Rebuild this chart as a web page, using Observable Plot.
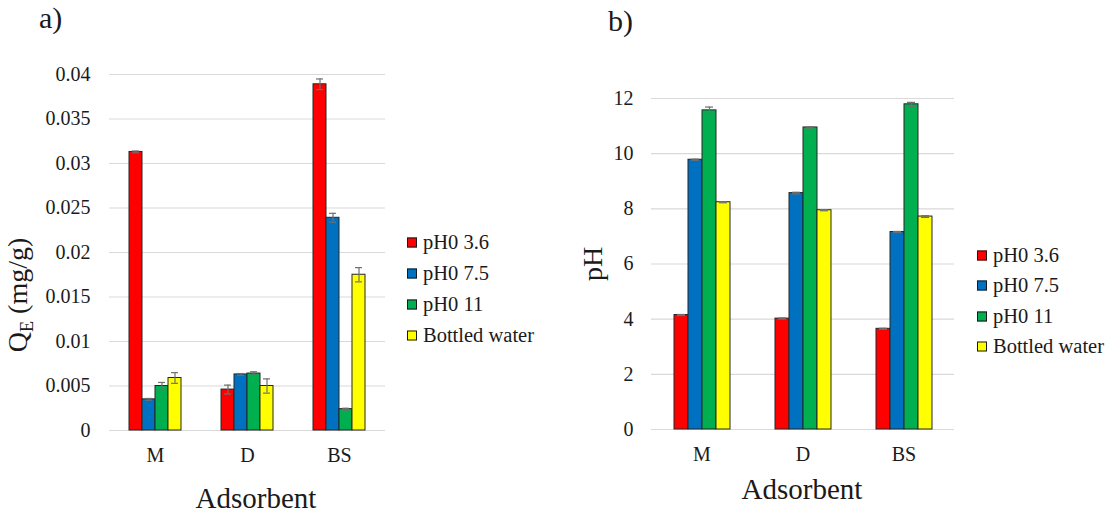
<!DOCTYPE html>
<html>
<head>
<meta charset="utf-8">
<script src="https://cdn.jsdelivr.net/npm/d3@7"></script>
<script src="https://cdn.jsdelivr.net/npm/@observablehq/plot@0.6"></script>
<style>
  html, body { margin: 0; padding: 0; background: #fff; }
  #root { position: relative; width: 1111px; height: 514px; overflow: hidden;
          font-family: "Liberation Serif", "Times New Roman", serif; color: #1a1a1a; }
  .abs { position: absolute; white-space: nowrap; line-height: 1; }
  .panel { position: absolute; top: 0; }
  .title { font-size: 30px; }
  .axlabel { font-size: 28px; transform: translate(-50%, -50%); }
  .xlab { font-size: 29px; }
  .ylab { transform: translate(-50%, -50%) rotate(-90deg); }
  .legend { position: absolute; font-size: 20.5px; }
  .legend .row { position: absolute; left: 0; display: flex; align-items: center; transform: translateY(-50%); white-space: nowrap; }
  .legend .sw { width: 8px; height: 8px; border: 1px solid #1a1a1a; margin-right: 6px; }
  sub { font-size: 65%; vertical-align: -0.3em; }
</style>
</head>
<body>
<div id="root"></div>
<script>
// ---------------- data ----------------
const adsorbents = ["M", "D", "BS"];
const seriesNames = ["pH0 3.6", "pH0 7.5", "pH0 11", "Bottled water"];
const seriesColors = ["#ff0000", "#0070c0", "#00b050", "#ffff00"];

// a) Q_E (mg/g), one array per series, in adsorbent order M, D, BS
const qePH36 = [0.0313, 0.0046, 0.0389];
const qePH75 = [0.0035, 0.0063, 0.0239];
const qePH11 = [0.0050, 0.0064, 0.0024];
const qeBottled = [0.0059, 0.0050, 0.0175];
const qeErrPH36 = [0.0001, 0.0005, 0.0006];
const qeErrPH75 = [0.0001, 0.0001, 0.0005];
const qeErrPH11 = [0.0004, 0.0002, 0.0001];
const qeErrBottled = [0.0006, 0.0008, 0.0008];
const qeTicks = [0, 0.005, 0.01, 0.015, 0.02, 0.025, 0.03, 0.035, 0.04];

// b) final pH, one array per series, in adsorbent order M, D, BS
const phPH36 = [4.15, 4.02, 3.65];
const phPH75 = [9.78, 8.57, 7.16];
const phPH11 = [11.57, 10.95, 11.79];
const phBottled = [8.24, 7.95, 7.72];
const phErrPH36 = [0.02, 0.02, 0.02];
const phErrPH75 = [0.02, 0.03, 0.02];
const phErrPH11 = [0.12, 0.02, 0.07];
const phErrBottled = [0.02, 0.02, 0.03];
const phTicks = [0, 2, 4, 6, 8, 10, 12];

const panelLabels = ["a)", "b)"];
const xTitle = "Adsorbent";

// ---------------- helpers ----------------
function buildRows(valueArrays, errArrays) {
  const rows = [];
  adsorbents.forEach((a, i) => {
    seriesNames.forEach((s, j) => {
      rows.push({adsorbent: a, series: s, value: valueArrays[j][i], err: errArrays[j][i]});
    });
  });
  return rows;
}

function barChart({rows, ticks, width, height, margin, tickPadding, fxTickPadding, paddingOuter}) {
  return Plot.plot({
    width, height,
    marginLeft: margin[3], marginRight: margin[1], marginTop: margin[0], marginBottom: margin[2],
    style: {fontFamily: '"Liberation Serif", "Times New Roman", serif', fontSize: "20px", color: "#1a1a1a", background: "transparent", overflow: "visible"},
    fx: {domain: adsorbents, paddingInner: 0, paddingOuter: 0, axis: "bottom", tickSize: 0, tickPadding: fxTickPadding, label: null},
    x: {domain: seriesNames, paddingInner: 0, paddingOuter, axis: null},
    y: {domain: [ticks[0], ticks[ticks.length - 1]], ticks, tickSize: 0, tickPadding, label: null, tickFormat: d => String(d)},
    color: {domain: seriesNames, range: seriesColors},
    marks: [
      Plot.gridY(ticks, {stroke: "#d9d9d9", strokeOpacity: 1, strokeWidth: 1.2}),
      Plot.barY(rows, {fx: "adsorbent", x: "series", y: "value", fill: "series", stroke: "#262626", strokeWidth: 1, insetLeft: 0, insetRight: 0}),
      Plot.ruleX(rows, {fx: "adsorbent", x: "series", y1: d => d.value - d.err, y2: d => d.value + d.err, stroke: "#6f6f6f", strokeWidth: 1.2}),
      Plot.tickY(rows, {fx: "adsorbent", x: "series", y: d => d.value + d.err, stroke: "#6f6f6f", strokeWidth: 1.2, insetLeft: 3, insetRight: 3}),
      Plot.tickY(rows, {fx: "adsorbent", x: "series", y: d => d.value - d.err, stroke: "#6f6f6f", strokeWidth: 1.2, insetLeft: 3, insetRight: 3})
    ]
  });
}

function addDiv(parent, cls, html, left, top) {
  const el = document.createElement("div");
  el.className = "abs " + cls;
  el.innerHTML = html;
  el.style.left = left + "px";
  el.style.top = top + "px";
  parent.appendChild(el);
  return el;
}

function addLegend(parent, left, rowYs) {
  const lg = document.createElement("div");
  lg.className = "legend";
  lg.style.left = left + "px";
  lg.style.top = "0px";
  seriesNames.forEach((s, i) => {
    const row = document.createElement("div");
    row.className = "row";
    row.style.top = rowYs[i] + "px";
    const sw = document.createElement("span");
    sw.className = "sw";
    sw.style.background = seriesColors[i];
    const tx = document.createElement("span");
    tx.textContent = s;
    row.appendChild(sw);
    row.appendChild(tx);
    lg.appendChild(row);
  });
  parent.appendChild(lg);
}

// ---------------- render ----------------
const root = document.getElementById("root");

// Panel a
const chartA = barChart({
  rows: buildRows([qePH36, qePH75, qePH11, qeBottled], [qeErrPH36, qeErrPH75, qeErrPH11, qeErrBottled]),
  ticks: qeTicks, width: 400, height: 514,
  margin: [74, 15, 84, 109], tickPadding: 19, fxTickPadding: 17, paddingOuter: 1.46
});
chartA.classList.add("panel");
chartA.style.left = "0px";
root.appendChild(chartA);

// Panel b
const chartB = barChart({
  rows: buildRows([phPH36, phPH75, phPH11, phBottled], [phErrPH36, phErrPH75, phErrPH11, phErrBottled]),
  ticks: phTicks, width: 420, height: 514,
  margin: [98, 26, 85, 90], tickPadding: 18, fxTickPadding: 17, paddingOuter: 1.52
});
chartB.classList.add("panel");
chartB.style.left = "560px";
root.appendChild(chartB);

// Titles and axis labels
addDiv(root, "title", panelLabels[0], 39, 3);
addDiv(root, "title", panelLabels[1], 608, 6);
addDiv(root, "axlabel ylab", "Q<sub>E</sub> (mg/g)", 20, 295);
addDiv(root, "axlabel ylab", "pH", 593, 264);
addDiv(root, "axlabel xlab", xTitle, 256, 498);
addDiv(root, "axlabel xlab", xTitle, 802, 489);

// Legends
addLegend(root, 407, [242, 273, 304, 335]);
addLegend(root, 977, [255, 285, 316, 346]);
</script>
</body>
</html>
